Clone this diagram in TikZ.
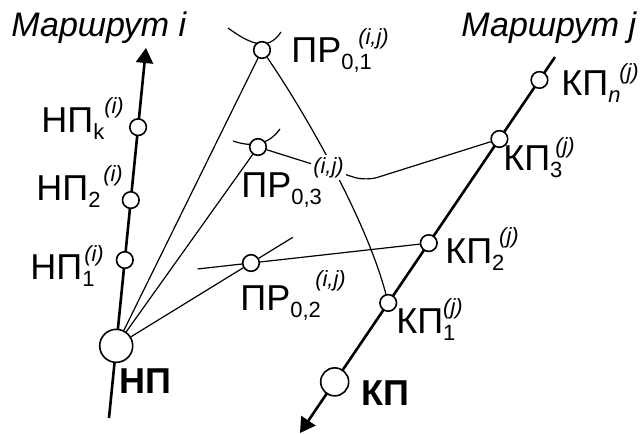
\documentclass[tikz,border=0pt]{standalone}
\usepackage{fontspec}
\setmainfont{Liberation Sans}
\usetikzlibrary{arrows.meta,calc}
\newcommand\subfnt{\fontsize{11}{13}\selectfont}
\newcommand\stopname[5]{#1\rlap{\raisebox{-3.8pt}{\subfnt #2}}\kern#4\raisebox{#5}{\setlength\fboxsep{1pt}\colorbox{white}{\subfnt\itshape #3}}}
\begin{document}
\begin{tikzpicture}[x=0.5pt,y=0.5pt,
		route/.style={line width=1.3pt,-{Triangle[width=8.5pt,length=7.5pt]}},
		link/.style={line width=0.6pt},
		stop/.style={circle,draw,fill=white,line width=0.8pt,minimum size=8.3pt,inner sep=0pt},
		lab/.style={anchor=base west,inner sep=0pt,font=\fontsize{18}{21}\selectfont},
		boldlab/.style={lab,font=\fontsize{18}{21}\selectfont\bfseries},
		routelab/.style={lab,font=\fontsize{17}{20}\selectfont\itshape}]
	\useasboundingbox (0,0) rectangle (643,-434);
	\coordinate (ibot) at (109,-418);
	\coordinate (itop) at (146,-48);
	\coordinate (jtop) at (555,-57);
	\coordinate (jbot) at (300,-433);
	\draw[route] (ibot) -- (itop)
		node[stop,minimum size=16.5pt,pos=0.195] (NP) {}
		node[stop,pos=0.427] (NP1) {}
		node[stop,pos=0.589] (NP2) {}
		node[stop,pos=0.786] (NPk) {};
	\draw[route] (jtop) -- (jbot)
		node[stop,pos=0.061] (KPn) {}
		node[stop,pos=0.218] (KP3) {}
		node[stop,pos=0.495] (KP2) {}
		node[stop,pos=0.654] (KP1) {}
		node[stop,minimum size=14pt,pos=0.864] (KP) {};
	\draw[link] (228,-28) .. controls (250,-44) and (268,-52) .. (281,-32);
	\draw[link] (233,-141) .. controls (248,-146) and (266,-148) .. (280,-129);
	\node[stop] (PR01) at (262,-50) {};
	\node[stop] (PR03) at (258,-147) {};
	\node[stop] (PR02) at (251,-263) {};
	\coordinate (ext2) at ($(NP)!1.31!(PR02)$);
	\coordinate (back2) at ($(KP2)!1.30!(PR02)$);
	\coordinate (bend3) at (366,-181);
	\draw[link] (NP) -- (PR01);
	\draw[link] (NP) -- (PR03);
	\draw[link] (NP) -- (PR02);
	\draw[link] (PR02) -- (ext2);
	\draw[link] (PR02) -- (KP2);
	\draw[link] (PR02) -- (back2);
	\draw[link] (PR01) .. controls (300,-105) and (365,-215) .. (KP1);
	\draw[link,rounded corners=6pt] (PR03) -- (bend3) -- (KP3);
	\node[routelab] (ri) at (11,-36) {Маршрут i};
	\node[routelab] (rj) at (461,-36) {Маршрут j};
	\node[lab] (lNPk) at (41,-132) {\stopname{НП}{k}{(i)}{4.5pt}{9.5pt}};
	\node[lab] (lNP2) at (36,-200) {\stopname{НП}{2}{(i)}{6.5pt}{9.5pt}};
	\node[lab] (lNP1) at (30,-279) {\stopname{НП}{1}{(i)}{0pt}{9pt}};
	\node[boldlab] (lNP) at (119,-393) {НП};
	\node[lab] (lKPn) at (561,-95) {\stopname{КП}{\textit{n}}{(j)}{4.5pt}{8pt}};
	\node[lab] (lKP3) at (503,-170) {\stopname{КП}{3}{(j)}{1.5pt}{8.5pt}};
	\node[lab] (lKP2) at (445,-263) {\stopname{КП}{2}{(j)}{2.5pt}{10pt}};
	\node[lab] (lKP1) at (396,-333) {\stopname{КП}{1}{(j)}{-1pt}{9.5pt}};
	\node[boldlab] (lKP) at (361,-405) {КП};
	\node[lab] (lPR01) at (291,-62) {\stopname{ПР}{0,1}{(i,j)}{7.5pt}{9pt}};
	\node[lab] (lPR03) at (241,-197) {\stopname{ПР}{0,3}{(i,j)}{10pt}{12pt}};
	\node[lab] (lPR02) at (240,-310) {\stopname{ПР}{0,2}{(i,j)}{11.5pt}{12pt}};
\end{tikzpicture}
\end{document}
